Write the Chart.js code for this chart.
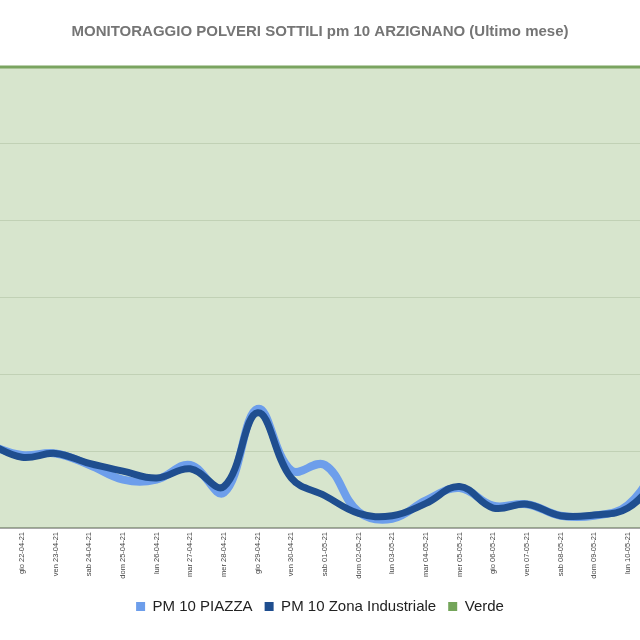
<!DOCTYPE html>
<html>
<head>
<meta charset="utf-8">
<script src="https://cdn.jsdelivr.net/npm/chart.js@4/dist/chart.umd.min.js"></script>
<style>
  html, body { margin: 0; padding: 0; background: #ffffff; }
  #wrap { width: 640px; height: 640px; }
</style>
</head>
<body>
<div id="wrap"><canvas id="c" width="640" height="640"></canvas></div>
<script>
const dayLabels = ['mer 21-04-21','gio 22-04-21','ven 23-04-21','sab 24-04-21','dom 25-04-21','lun 26-04-21','mar 27-04-21','mer 28-04-21','gio 29-04-21','ven 30-04-21','sab 01-05-21','dom 02-05-21','lun 03-05-21','mar 04-05-21','mer 05-05-21','gio 06-05-21','ven 07-05-21','sab 08-05-21','dom 09-05-21','lun 10-05-21','mar 11-05-21'];
const pm10Piazza = [10.8, 9.5, 9.7, 8.2, 6.3, 6.3, 8.2, 4.6, 15.5, 7.5, 8.2, 2.1, 1.2, 3.6, 5.2, 2.9, 3.1, 1.6, 1.6, 3.0, 9.0];
const pm10ZonaIndustriale = [11.0, 9.2, 9.7, 8.4, 7.4, 6.5, 7.7, 5.4, 15.0, 6.5, 4.2, 1.9, 1.6, 3.2, 5.4, 2.6, 3.1, 1.6, 1.7, 2.6, 7.0];
const verde = [60, 60, 60, 60, 60, 60, 60, 60, 60, 60, 60, 60, 60, 60, 60, 60, 60, 60, 60, 60, 60];
const yTicks = [0, 10, 20, 30, 40, 50, 60];
const xVisibleMin = 0.347;
const xVisibleMax = 19.36;

const toXY = arr => arr.map((v, i) => ({ x: i, y: v }));
const legendColors = ['#6d9eeb', '#1f4e8f', '#74a55a'];

new Chart(document.getElementById('c'), {
  type: 'line',
  data: {
    datasets: [
      {
        label: 'PM 10 PIAZZA',
        data: toXY(pm10Piazza),
        borderColor: '#6d9eeb',
        backgroundColor: '#6d9eeb',
        borderWidth: 8,
        pointRadius: 0,
        tension: 0.4,
        fill: false,
        order: 1
      },
      {
        label: 'PM 10 Zona Industriale',
        data: toXY(pm10ZonaIndustriale),
        borderColor: '#1f4e8f',
        backgroundColor: '#1f4e8f',
        borderWidth: 7,
        pointRadius: 0,
        tension: 0.4,
        fill: false,
        order: 0
      },
      {
        label: 'Verde',
        data: toXY(verde),
        borderColor: '#7aa460',
        backgroundColor: 'rgba(106,160,70,0.27)',
        borderWidth: 3,
        pointRadius: 0,
        tension: 0,
        fill: 'origin',
        clip: false,
        order: 2
      }
    ]
  },
  options: {
    responsive: false,
    animation: false,
    devicePixelRatio: 1,
    layout: { padding: { left: 0, right: 0, top: 0, bottom: 16 } },
    scales: {
      x: {
        type: 'linear',
        min: xVisibleMin,
        max: xVisibleMax,
        grid: { display: false, drawTicks: false },
        border: { display: true, color: '#a8a8a8', width: 2 },
        afterBuildTicks: s => {
          s.ticks = dayLabels.map((_, i) => ({ value: i })).filter(t => t.value >= s.min && t.value <= s.max);
        },
        afterFit: s => { s.height = 59; s.paddingLeft = 0; s.paddingRight = 0; },
        ticks: {
          autoSkip: false,
          minRotation: 90,
          maxRotation: 90,
          padding: 4,
          color: '#444444',
          font: { family: 'Liberation Sans, Arial, sans-serif', size: 7.5 },
          callback: v => dayLabels[v]
        }
      },
      y: {
        type: 'linear',
        min: yTicks[0],
        max: yTicks[yTicks.length - 1],
        afterBuildTicks: s => { s.ticks = yTicks.map(v => ({ value: v })); },
        afterFit: s => { s.width = 0; },
        grid: { color: 'rgba(60,80,50,0.16)', drawTicks: false },
        border: { display: false },
        ticks: { display: false }
      }
    },
    plugins: {
      title: {
        display: true,
        text: 'MONITORAGGIO POLVERI SOTTILI pm 10 ARZIGNANO (Ultimo mese)',
        color: '#757575',
        font: { family: 'Liberation Sans, Arial, sans-serif', size: 15, weight: 'bold' },
        padding: { top: 23, bottom: 26 }
      },
      legend: {
        position: 'bottom',
        labels: {
          boxWidth: 9,
          boxHeight: 9,
          padding: 12,
          color: '#222222',
          font: { family: 'Liberation Sans, Arial, sans-serif', size: 15 },
          generateLabels: chart => chart.data.datasets.map((ds, i) => ({
            text: ds.label,
            fillStyle: legendColors[i],
            strokeStyle: legendColors[i],
            lineWidth: 0,
            hidden: false,
            datasetIndex: i,
            fontColor: '#222222'
          }))
        }
      },
      tooltip: { enabled: false }
    }
  }
});
</script>
</body>
</html>
